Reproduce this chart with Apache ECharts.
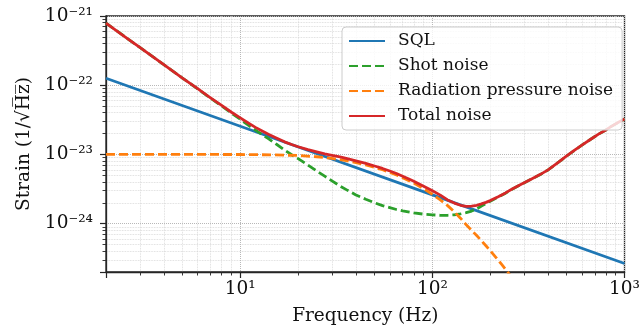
<!DOCTYPE html>
<html>
<head>
<meta charset="utf-8">
<script src="https://cdn.jsdelivr.net/npm/echarts@6/dist/echarts.min.js"></script>
<style>
  html, body { margin: 0; padding: 0; background: #fff; }
  #chart { width: 643px; height: 334px; }
</style>
</head>
<body>
<div id="chart"></div>
<script>
// strain values are in units of 1e-24 / sqrt(Hz)
const STRAIN_EXP = -24

const sqlFreq = [2, 10, 100, 1000]
const sqlStrain = [126, 25.5, 2.6, 0.265]

const shotFreq = [2, 2.5, 3, 3.5, 4, 5, 6, 7, 8, 9, 10, 11, 12, 13, 14, 15.5, 17, 18.5, 20, 22.5, 25, 27.5, 30, 33, 36, 40, 45, 50, 55, 60, 65, 70, 80, 90, 100, 110, 120, 130, 140, 150, 160, 170, 180, 190, 200, 220, 240, 260, 290, 330, 365, 400, 450, 500, 550, 600, 670, 736, 800, 850, 920, 1000]
const shotStrain = [790, 505, 352, 258, 198, 127, 88.5, 65, 50, 39.5, 32.2, 26.6, 22.5, 19.3, 16.9, 13.9, 11.6, 9.9, 8.7, 7.0, 5.75, 4.85, 4.15, 3.5, 3.05, 2.6, 2.25, 2.0, 1.82, 1.7, 1.6, 1.53, 1.43, 1.37, 1.34, 1.32, 1.32, 1.34, 1.38, 1.44, 1.52, 1.63, 1.8, 1.95, 2.1, 2.42, 2.75, 3.14, 3.69, 4.44, 5.14, 5.97, 7.59, 9.49, 11.49, 13.59, 16.69, 19.79, 22.59, 25.19, 28.59, 32.39]

const rpFreq = [2, 5, 10, 15, 20, 25, 30, 35, 40, 45, 50, 55, 60, 65, 70, 75, 80, 90, 100, 110, 120, 130, 140, 150, 160, 170, 180, 190, 200, 215, 230, 243, 260, 280]
const rpStrain = [10, 10, 9.97, 9.85, 9.65, 9.25, 8.75, 8.2, 7.6, 7.05, 6.5, 6.0, 5.5, 5.05, 4.6, 4.2, 3.85, 3.2, 2.65, 2.2, 1.82, 1.48, 1.2, 0.96, 0.8, 0.672, 0.566, 0.479, 0.407, 0.321, 0.255, 0.21, 0.165, 0.125]

const totalFreq = [2, 2.5, 3, 3.5, 4, 5, 6, 7, 8, 9, 10, 11, 12, 13, 14, 15.5, 17, 18.5, 20, 22.5, 25, 27.5, 30, 33, 36, 40, 45, 50, 55, 60, 65, 70, 75, 80, 90, 100, 110, 120, 130, 140, 150, 160, 170, 180, 190, 200, 220, 240, 260, 290, 330, 365, 400, 450, 500, 550, 600, 670, 736, 800, 850, 920, 1000]
const totalStrain = [790, 505, 352, 258, 198, 127, 89, 65.8, 51, 40.7, 33.7, 28.4, 24.6, 21.8, 19.6, 17.1, 15.2, 13.9, 12.9, 11.7, 10.9, 10.2, 9.7, 9.2, 8.7, 8.05, 7.4, 6.8, 6.27, 5.76, 5.3, 4.85, 4.45, 4.1, 3.48, 2.98, 2.58, 2.2, 1.98, 1.84, 1.78, 1.79, 1.84, 1.93, 2.03, 2.15, 2.45, 2.78, 3.16, 3.7, 4.45, 5.15, 5.98, 7.6, 9.5, 11.5, 13.6, 16.7, 19.8, 22.6, 25.2, 28.6, 32.4]

const seriesNames = ['SQL', 'Shot noise', 'Radiation pressure noise', 'Total noise']

const supMap = { '-': '\u207b', '0': '\u2070', '1': '\u00b9', '2': '\u00b2', '3': '\u00b3', '4': '\u2074', '5': '\u2075', '6': '\u2076', '7': '\u2077', '8': '\u2078', '9': '\u2079' }
const toSup = (n) => String(n).split('').map((c) => supMap[c]).join('')

const decadeLabel = (shift) => (value) => {
  const e = Math.log10(value)
  const n = Math.round(e)
  if (Math.abs(e - n) > 1e-6) return ''
  return '10' + toSup(n + shift)
}

const pairs = (xs, ys) => xs.map((x, i) => [x, ys[i]])

const serif = 'DejaVu Serif'
const axisColor = '#262626'

var chartDom = document.getElementById('chart')
var myChart = echarts.init(chartDom, null, { renderer: 'canvas' })
var option

const lineSeries = (name, data, color, dashed) => ({
  name: name,
  type: 'line',
  data: data,
  symbol: 'none',
  clip: true,
  lineStyle: {
    color: color,
    width: 2.8,
    type: dashed ? [9, 4] : 'solid',
    cap: 'butt',
    join: 'round'
  },
  itemStyle: { color: color }
})

const logAxis = (min, max, shift) => ({
  type: 'log',
  logBase: 10,
  min: min,
  max: max,
  nameLocation: 'middle',
  nameTextStyle: { fontFamily: serif, fontSize: 18.5, color: '#111' },
  axisLine: { show: true, lineStyle: { color: axisColor, width: 1.3 } },
  axisTick: { show: true, inside: false, length: 6, lineStyle: { color: axisColor, width: 1.2 } },
  minorTick: { show: true, splitNumber: 9, length: 3.5, lineStyle: { color: axisColor, width: 0.9 } },
  axisLabel: { formatter: decadeLabel(shift), fontFamily: serif, fontSize: 18.5, color: '#111' },
  splitLine: { show: true, lineStyle: { color: '#b8b8b8', type: 'dotted', width: 1 } },
  minorSplitLine: { show: true, lineStyle: { color: '#d4d4d4', type: 'dotted', width: 0.8 } }
})

const xAxis = logAxis(2, 1000, 0)
xAxis.name = 'Frequency (Hz)'
xAxis.nameGap = 35
xAxis.axisLabel.margin = 8

const yAxis = logAxis(0.2, 1000, STRAIN_EXP)
yAxis.name = 'Strain (1/\u221aH\u0305z\u0305)'
yAxis.nameGap = 70
yAxis.axisLabel.margin = 13

option = {
  animation: false,
  backgroundColor: '#fff',
  textStyle: { fontFamily: serif },
  grid: {
    left: 106,
    right: 13,
    top: 16,
    bottom: 62,
    show: true,
    borderColor: axisColor,
    borderWidth: 1.3
  },
  legend: {
    orient: 'vertical',
    left: 342,
    top: 27,
    padding: [4, 9, 4, 6],
    itemGap: 5,
    itemWidth: 36,
    itemHeight: 14,
    itemStyle: { opacity: 0 },
    backgroundColor: 'rgba(255,255,255,0.8)',
    borderColor: '#cccccc',
    borderWidth: 1,
    borderRadius: 4,
    textStyle: { fontFamily: serif, fontSize: 17, lineHeight: 20, color: '#111', padding: [0, 0, 0, 8] },
    data: seriesNames
  },
  xAxis: xAxis,
  yAxis: yAxis,
  series: [
    lineSeries(seriesNames[0], pairs(sqlFreq, sqlStrain), '#1f77b4', false),
    lineSeries(seriesNames[1], pairs(shotFreq, shotStrain), '#2ca02c', true),
    lineSeries(seriesNames[2], pairs(rpFreq, rpStrain), '#ff7f0e', true),
    lineSeries(seriesNames[3], pairs(totalFreq, totalStrain), '#d62728', false)
  ]
}

option && myChart.setOption(option)
</script>
</body>
</html>
